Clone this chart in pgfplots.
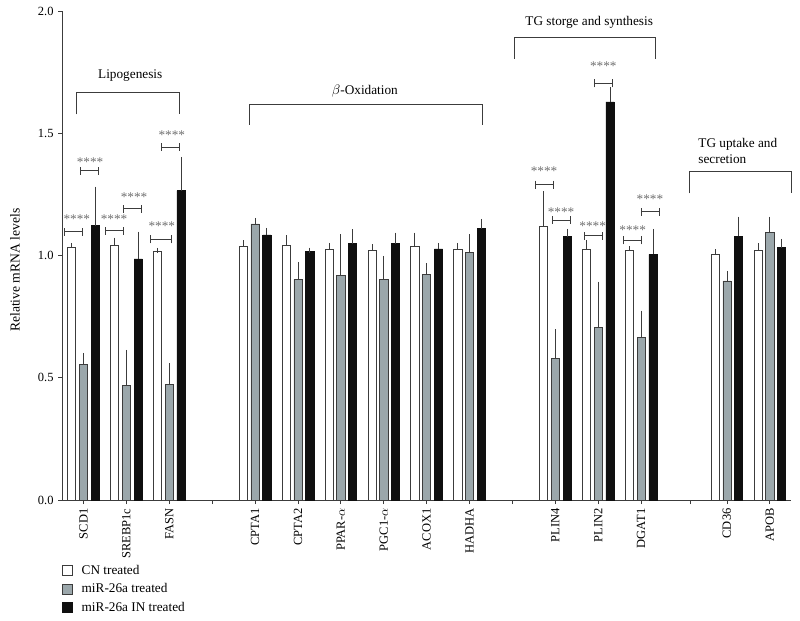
\documentclass[border=0pt]{standalone}
\usepackage{pgfplots}
\pgfplotsset{compat=1.18}
\usepackage{pgfplotstable}
\usepackage{fontspec}
\setmainfont{Liberation Serif}
\usetikzlibrary{calc}
\definecolor{grayfill}{RGB}{155,167,171}
\definecolor{blackfill}{RGB}{15,15,15}
\definecolor{sigcol}{RGB}{110,110,110}
\definecolor{linecol}{RGB}{60,60,60}
\newcommand{\annfont}{\fontsize{10.6}{12.8}\selectfont}

\pgfplotstableread{
x   y      e
1   1.032  0.010
2   1.040  0.023
3   1.016  0.005
5   1.036  0.017
6   1.042  0.030
7   1.025  0.017
8   1.021  0.015
9   1.036  0.047
10  1.027  0.015
12  1.118  0.134
13  1.027  0.025
14  1.022  0.005
16  1.005  0.010
17  1.022  0.018
}\cn
\pgfplotstableread{
x   y      e
1   0.555  0.037
2   0.469  0.135
3   0.472  0.078
5   1.129  0.015
6   0.903  0.061
7   0.919  0.158
8   0.903  0.085
9   0.922  0.036
10  1.012  0.065
12  0.579  0.110
13  0.705  0.178
14  0.665  0.100
16  0.896  0.031
17  1.093  0.056
}\mir
\pgfplotstableread{
x   y      e
1   1.122  0.150
2   0.986  0.102
3   1.265  0.128
5   1.084  0.019
6   1.018  0.004
7   1.048  0.049
8   1.048  0.035
9   1.027  0.015
10  1.110  0.030
12  1.077  0.022
13  1.628  0.049
14  1.005  0.094
16  1.078  0.071
17  1.032  0.026
}\inh

\begin{document}
\begin{tikzpicture}
\begin{axis}[
  name=ax,
  scale only axis,
  width=583pt, height=391pt,
  xmin=0.5, xmax=17.5,
  ymin=0, ymax=2,
  clip=false,
  axis x line*=bottom,
  axis y line*=left,
  axis line style={linecol, line width=0.7pt},
  tick style={linecol, line width=0.6pt},
  tick align=outside,
  major tick length=3.2pt,
  ytick={0,0.5,1,1.5,2},
  yticklabel style={/pgf/number format/fixed, /pgf/number format/fixed zerofill, /pgf/number format/precision=1},
  /pgf/number format/assume math mode=true,
  xtick={1,2,3,4,5,6,7,8,9,10,11,12,13,14,15.14,16,17},
  xticklabels={SCD1,SREBP1c,FASN,,CPTA1,CPTA2,PPAR-$\alpha$,PGC1-$\alpha$,ACOX1,HADHA,,PLIN4,PLIN2,DGAT1,,CD36,APOB},
  xticklabel style={rotate=90, anchor=east},
  ylabel={Relative mRNA levels},
  every axis y label/.style={at={(axis description cs:-0.0645,0.47)}, rotate=90, anchor=center, font=\fontsize{10.9}{13}\selectfont},
  legend style={at={(axis description cs:0,-0.127)}, anchor=north west, draw=none, fill=none,
    inner xsep=0pt, inner ysep=0pt, row sep=2pt, cells={anchor=west}, font=\annfont},
  legend image code/.code={\draw[#1] (0pt,-4pt) rectangle (8pt,4pt); \path (13pt,0pt);},
  errplot/.style={forget plot, draw=none, mark=none,
    error bars/y dir=plus, error bars/y explicit,
    error bars/error bar style={draw=linecol, line width=0.6pt, solid},
    error bars/error mark options={draw=linecol, line width=0.6pt, mark size=2pt, solid}},
]
\addplot[ybar, bar width=0.19, bar shift=-0.275, draw=linecol, line width=0.5pt, fill=white, forget plot]
  table[x=x, y=y] {\cn};
\addplot[ybar, bar width=0.19, bar shift=0, draw=linecol, line width=0.5pt, fill=grayfill, forget plot]
  table[x=x, y=y] {\mir};
\addplot[ybar, bar width=0.19, bar shift=0.275, draw=blackfill, line width=0.5pt, fill=blackfill, forget plot]
  table[x=x, y=y] {\inh};

\addplot[errplot] table[x expr=\thisrow{x}-0.275, y=y, y error=e] {\cn};
\addplot[errplot] table[x expr=\thisrow{x}, y=y, y error=e] {\mir};
\addplot[errplot] table[x expr=\thisrow{x}+0.275, y=y, y error=e] {\inh};

\addlegendimage{draw=linecol, line width=0.5pt, fill=white}
\addlegendentry{CN treated}
\addlegendimage{draw=linecol, line width=0.5pt, fill=grayfill}
\addlegendentry{miR-26a treated}
\addlegendimage{draw=blackfill, line width=0.5pt, fill=blackfill}
\addlegendentry{miR-26a IN treated}

% group brackets
\draw[linecol, line width=0.6pt] (axis cs:0.83,1.577) |- (axis cs:3.24,1.667) -- (axis cs:3.24,1.577);
\node[inner sep=0pt, font=\annfont] at (axis cs:2.09,1.735) {Lipogenesis};
\draw[linecol, line width=0.6pt] (axis cs:4.86,1.534) |- (axis cs:10.30,1.62) -- (axis cs:10.30,1.534);
\node[inner sep=0pt, font=\annfont] at (axis cs:7.56,1.674) {$\beta$-Oxidation};
\draw[linecol, line width=0.6pt] (axis cs:11.04,1.804) |- (axis cs:14.34,1.891) -- (axis cs:14.34,1.804);
\node[inner sep=0pt, font=\annfont] at (axis cs:12.79,1.954) {TG storge and synthesis};
\draw[linecol, line width=0.6pt] (axis cs:15.12,1.254) |- (axis cs:17.51,1.346) -- (axis cs:17.51,1.254);
\node[inner sep=0pt, anchor=west, align=left, font=\annfont] at (axis cs:15.33,1.426) {TG uptake and\\secretion};

% significance markers
\tikzset{sig/.style={linecol, line width=0.6pt, |-|}, star/.style={inner sep=0pt, text=sigcol, anchor=center, yshift=-2pt, font=\annfont}}
\draw[sig] (axis cs:0.548,1.097) -- (axis cs:0.974,1.097);
\node[star] at (axis cs:0.844,1.159) {****};
\draw[sig] (axis cs:0.921,1.347) -- (axis cs:1.364,1.347);
\node[star] at (axis cs:1.154,1.393) {****};
\draw[sig] (axis cs:1.503,1.101) -- (axis cs:1.946,1.101);
\node[star] at (axis cs:1.713,1.159) {****};
\draw[sig] (axis cs:1.916,1.191) -- (axis cs:2.359,1.191);
\node[star] at (axis cs:2.179,1.247) {****};
\draw[sig] (axis cs:2.552,1.066) -- (axis cs:3.065,1.066);
\node[star] at (axis cs:2.825,1.129) {****};
\draw[sig] (axis cs:2.809,1.444) -- (axis cs:3.235,1.444);
\node[star] at (axis cs:3.058,1.502) {****};

\draw[sig] (axis cs:11.527,1.290) -- (axis cs:11.953,1.290);
\node[star] at (axis cs:11.737,1.354) {****};
\draw[sig] (axis cs:11.930,1.145) -- (axis cs:12.366,1.145);
\node[star] at (axis cs:12.133,1.189) {****};
\draw[sig] (axis cs:12.676,1.081) -- (axis cs:13.105,1.081);
\node[star] at (axis cs:12.872,1.129) {****};
\draw[sig] (axis cs:12.909,1.704) -- (axis cs:13.329,1.704);
\node[star] at (axis cs:13.119,1.783) {****};
\draw[sig] (axis cs:13.585,1.062) -- (axis cs:14.014,1.062);
\node[star] at (axis cs:13.804,1.115) {****};
\draw[sig] (axis cs:14.0,1.179) -- (axis cs:14.424,1.179);
\node[star] at (axis cs:14.207,1.240) {****};
\end{axis}
\pgfresetboundingbox
\path[use as bounding box] ($(ax.south west)+(-49.6pt,-96pt)$) rectangle ($(ax.north east)+(7pt,8.8pt)$);
\end{tikzpicture}
\end{document}
